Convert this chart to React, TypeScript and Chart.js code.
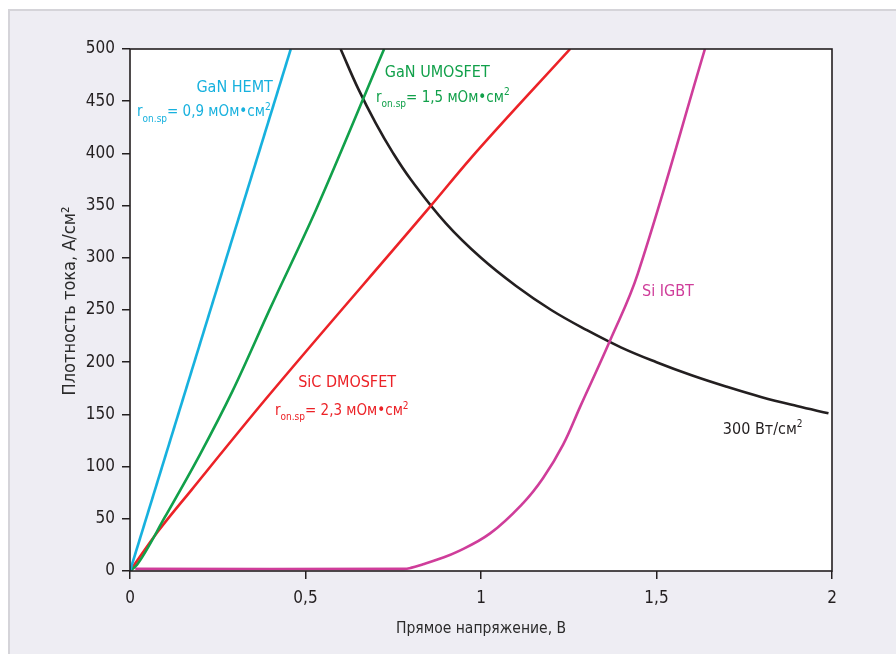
import React, { useEffect, useRef } from "react";
import { Chart, registerables } from "chart.js";

Chart.register(...registerables);

// ---- data ----
const hemtV = [0, 0.458];
const hemtJ = [0, 500];

const umosV = [0, 0.02, 0.1, 0.2, 0.293, 0.4, 0.53, 0.724];
const umosJ = [0, 6, 52, 112, 173, 252, 346, 500];

const sicV = [0, 0.08, 0.176, 0.385, 0.855, 0.97, 1.254];
const sicJ = [0, 38, 78, 164, 349, 395, 500];

const igbtV = [0.015, 0.78, 0.8, 0.835, 0.88, 0.93, 1.026, 1.12, 1.177, 1.234, 1.282, 1.368, 1.447, 1.638];
const igbtJ = [2, 2, 3, 6.5, 11.5, 18, 36, 65, 89, 121, 157, 221, 285, 500];

const powerV = [0.6, 0.65, 0.7, 0.75, 0.8, 0.9, 1.0, 1.1, 1.2, 1.3, 1.4, 1.5, 1.6, 1.7, 1.8, 1.9, 1.99];
const powerJ = [500, 462, 429, 400, 375, 333, 300, 273, 250, 231, 214, 200, 187.5, 176.5, 166.5, 158, 151];

const xTickValues = [0, 0.5, 1, 1.5, 2];
const xTickLabels = ["0", "0,5", "1", "1,5", "2"];

const xTitle = "Прямое напряжение, В";
const yTitle = "Плотность тока, А/см²";

const C_HEMT = "#17b1de";
const C_UMOS = "#11a04a";
const C_SIC = "#ec2227";
const C_IGBT = "#cf3d9a";
const C_POWER = "#231f20";

type Seg = { t: string; k: "n" | "sub" | "sup" };
type Note = { segs: Seg[]; color: string; x: number; y: number; align: "left" | "right"; size: number };

const notes: Note[] = [
  { segs: [{ t: "GaN HEMT", k: "n" }], color: C_HEMT, x: 0.407, y: 465, align: "right", size: 16 },
  {
    segs: [{ t: "r", k: "n" }, { t: "on.sp", k: "sub" }, { t: "= 0,9 мОм•см", k: "n" }, { t: "2", k: "sup" }],
    color: C_HEMT, x: 0.02, y: 441, align: "left", size: 15,
  },
  { segs: [{ t: "GaN UMOSFET", k: "n" }], color: C_UMOS, x: 0.726, y: 479, align: "left", size: 16 },
  {
    segs: [{ t: "r", k: "n" }, { t: "on.sp", k: "sub" }, { t: "= 1,5 мОм•см", k: "n" }, { t: "2", k: "sup" }],
    color: C_UMOS, x: 0.701, y: 455, align: "left", size: 15,
  },
  { segs: [{ t: "SiC DMOSFET", k: "n" }], color: C_SIC, x: 0.479, y: 182, align: "left", size: 16 },
  {
    segs: [{ t: "r", k: "n" }, { t: "on.sp", k: "sub" }, { t: "= 2,3 мОм•см", k: "n" }, { t: "2", k: "sup" }],
    color: C_SIC, x: 0.413, y: 155, align: "left", size: 15,
  },
  { segs: [{ t: "Si IGBT", k: "n" }], color: C_IGBT, x: 1.459, y: 269, align: "left", size: 16 },
  { segs: [{ t: "300 Вт/см", k: "n" }, { t: "2", k: "sup" }], color: C_POWER, x: 1.689, y: 137, align: "left", size: 16 },
];

const FONT = '"Liberation Sans Narrow", "DejaVu Sans Condensed", "Roboto Condensed", sans-serif';

function pts(xs: number[], ys: number[]) {
  return xs.map((x, i) => ({ x, y: ys[i] }));
}

function drawRich(ctx: CanvasRenderingContext2D, segs: Seg[], x: number, yMid: number, color: string, size: number, align: string) {
  const small = Math.round(size * 0.64);
  const fontFor = (k: string) => `${k === "n" ? size : small}px ${FONT}`;
  let w = 0;
  for (const s of segs) {
    ctx.font = fontFor(s.k);
    w += ctx.measureText(s.t).width;
  }
  let cx = align === "right" ? x - w : x;
  const base = yMid + size * 0.38;
  ctx.fillStyle = color;
  ctx.textBaseline = "alphabetic";
  ctx.textAlign = "left";
  for (const s of segs) {
    ctx.font = fontFor(s.k);
    const dy = s.k === "sub" ? size * 0.35 : s.k === "sup" ? -size * 0.42 : 0;
    ctx.fillText(s.t, cx, base + dy);
    cx += ctx.measureText(s.t).width;
  }
}

const decor = {
  id: "decor",
  beforeDraw(chart: any) {
    const { ctx, chartArea: a } = chart;
    ctx.save();
    ctx.fillStyle = "#ffffff";
    ctx.fillRect(a.left, a.top, a.right - a.left, a.bottom - a.top);
    ctx.restore();
  },
  afterDraw(chart: any) {
    const { ctx, chartArea: a, scales } = chart;
    ctx.save();
    ctx.strokeStyle = "#231f20";
    ctx.lineWidth = 1.6;
    ctx.strokeRect(a.left, a.top, a.right - a.left, a.bottom - a.top);

    for (const n of notes) {
      const px = scales.x.getPixelForValue(n.x);
      const py = scales.y.getPixelForValue(n.y);
      drawRich(ctx, n.segs, px, py, n.color, n.size, n.align);
    }

    ctx.fillStyle = "#2b2b2b";
    ctx.font = `15.5px ${FONT}`;
    ctx.textAlign = "center";
    ctx.textBaseline = "middle";
    ctx.fillText(xTitle, (a.left + a.right) / 2, a.bottom + 58);

    ctx.font = `18px ${FONT}`;
    ctx.translate(a.left - 60, (a.top + a.bottom) / 2 - 9);
    ctx.rotate(-Math.PI / 2);
    ctx.fillText(yTitle, 0, 0);
    ctx.restore();
  },
};

export default function App() {
  const ref = useRef<HTMLCanvasElement | null>(null);

  useEffect(() => {
    if (!ref.current) return;
    const ds = (label: string, xs: number[], ys: number[], color: string, smooth: "monotone" | "default") => ({
      label,
      data: pts(xs, ys),
      borderColor: color,
      backgroundColor: color,
      borderWidth: 2.6,
      pointRadius: 0,
      fill: false,
      tension: smooth === "default" ? 0.4 : 0,
      cubicInterpolationMode: smooth,
    });
    const chart = new Chart(ref.current, {
      type: "line",
      data: {
        datasets: [
          ds("GaN HEMT", hemtV, hemtJ, C_HEMT, "monotone"),
          ds("GaN UMOSFET", umosV, umosJ, C_UMOS, "monotone"),
          ds("SiC DMOSFET", sicV, sicJ, C_SIC, "monotone"),
          ds("Si IGBT", igbtV, igbtJ, C_IGBT, "default"),
          ds("300 Вт/см²", powerV, powerJ, C_POWER, "default"),
        ] as any,
      },
      options: {
        animation: false,
        responsive: false,
        layout: { padding: { top: 40, right: 64, left: 0, bottom: 0 } },
        plugins: { legend: { display: false }, tooltip: { enabled: false } },
        scales: {
          x: {
            type: "linear",
            min: 0,
            max: 2,
            afterFit: (s: any) => { s.height = 83; },
            afterBuildTicks: (s: any) => { s.ticks = xTickValues.map((v) => ({ value: v })); },
            ticks: {
              callback: (v: any) => {
                const i = xTickValues.indexOf(Number(v));
                return i >= 0 ? xTickLabels[i] : "";
              },
              font: { family: FONT, size: 17 },
              color: "#231f20",
              padding: 9,
              maxRotation: 0,
            },
            grid: { drawOnChartArea: false, drawTicks: true, tickLength: 8, color: "#231f20", lineWidth: 1.5 },
            border: { display: false },
          },
          y: {
            type: "linear",
            min: 0,
            max: 500,
            afterFit: (s: any) => { s.width = 122; },
            ticks: {
              stepSize: 50,
              font: { family: FONT, size: 17 },
              color: "#231f20",
              padding: 7,
            },
            grid: { drawOnChartArea: false, drawTicks: true, tickLength: 8, color: "#231f20", lineWidth: 1.5 },
            border: { display: false },
          },
        },
      },
      plugins: [decor],
    });
    return () => chart.destroy();
  }, []);

  return (
    <div
      style={{
        position: "absolute",
        left: 8,
        top: 9,
        width: 888,
        height: 645,
        boxSizing: "border-box",
        background: "#eeedf3",
        borderTop: "2px solid #d5d4d9",
        borderLeft: "2px solid #d5d4d9",
      }}
    >
      <canvas
        ref={ref}
        width={888}
        height={645}
        style={{ position: "absolute", left: -2, top: -2, width: 888, height: 645 }}
      />
    </div>
  );
}
